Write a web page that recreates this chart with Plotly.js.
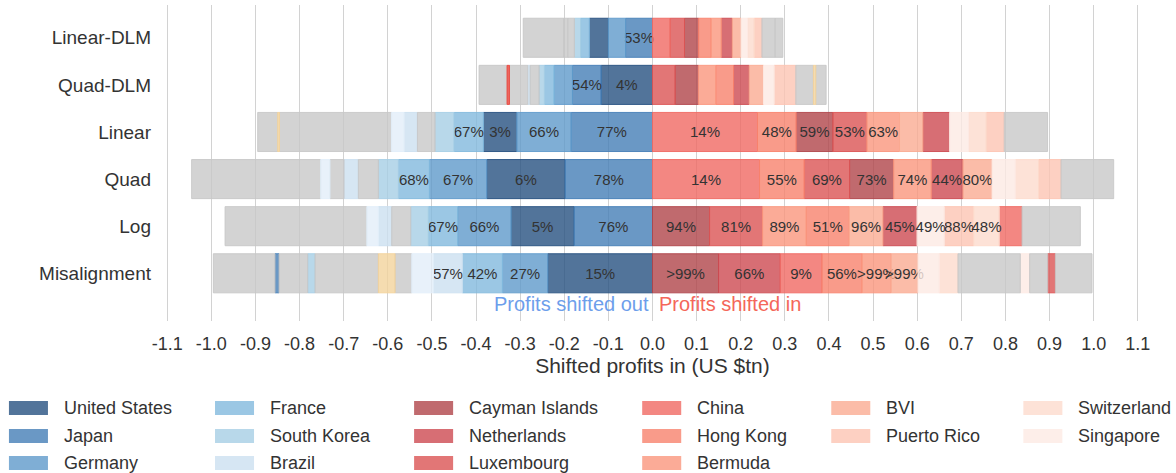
<!DOCTYPE html>
<html><head><meta charset="utf-8">
<script src="https://cdn.plot.ly/plotly-3.0.1.min.js"></script>
<style>html,body{margin:0;padding:0;background:#fff}#chart{width:1176px;height:473px}</style>
</head><body><div id="chart"></div>
<script>
// ---------- data ----------
const rows = ['Linear-DLM','Quad-DLM','Linear','Quad','Log','Misalignment'];

const legendCountries = ['United States','Japan','Germany','France','South Korea','Brazil',
  'Cayman Islands','Netherlands','Luxembourg','China','Hong Kong','Bermuda',
  'BVI','Puerto Rico','Switzerland','Singapore'];
const legendColors = ['#52749a','#6a98c5','#7faed5','#9bc7e4','#b8d8ea','#d6e6f3',
  '#c06a6e','#d76e74','#e27676','#f38782','#f99b8a','#fbab97',
  '#fbbca8','#fdd0c2','#fde2d7','#fdeee9'];
const legendColumnSizes = [3,3,3,3,2,2];

const otherKeys = ['Other','Other (pale blue)','Other (yellow)','Other (red)'];
const otherColors = ['#d3d3d3','#e8f1fa','#f5dcb0','#ef6a63'];

const tickValues = [-1.1,-1.0,-0.9,-0.8,-0.7,-0.6,-0.5,-0.4,-0.3,-0.2,-0.1,0,0.1,0.2,0.3,0.4,0.5,0.6,0.7,0.8,0.9,1.0,1.1];
const tickLabels = ['-1.1','-1.0','-0.9','-0.8','-0.7','-0.6','-0.5','-0.4','-0.3','-0.2','-0.1','0.0','0.1','0.2','0.3','0.4','0.5','0.6','0.7','0.8','0.9','1.0','1.1'];

// Profits shifted out (listed from 0 outward), US $tn
const linearDlmOutKeys = ['Japan','Germany','United States','France','South Korea','Other','Other','Other'];
const linearDlmOutVals = [0.061,0.039,0.043,0.020,0.014,0.015,0.009,0.092];
const linearDlmOutText = ['53%','','','','','','',''];
const linearDlmInKeys = ['China','Luxembourg','Cayman Islands','Hong Kong','Bermuda','Netherlands','BVI','Singapore','Switzerland','Puerto Rico','Other','Other'];
const linearDlmInVals = [0.040,0.0325,0.032,0.028,0.0234,0.025,0.0197,0.015,0.015,0.0174,0.030,0.0174];
const linearDlmInText = ['','','','','','','','','','','',''];

const quadDlmOutKeys = ['United States','Japan','Germany','France','South Korea','Other','Brazil','Other','Other (red)','Other'];
const quadDlmOutVals = [0.1164,0.065,0.0416,0.0219,0.0121,0.0204,0.0053,0.0416,0.0053,0.0635];
const quadDlmOutText = ['4%','54%','','','','','','','',''];
const quadDlmInKeys = ['Luxembourg','Cayman Islands','Bermuda','Hong Kong','Netherlands','BVI','Singapore','Puerto Rico','Other','Other (yellow)','Other'];
const quadDlmInVals = [0.0514,0.0529,0.0393,0.040,0.0355,0.0325,0.0242,0.049,0.040,0.0053,0.0234];
const quadDlmInText = ['','','','','','','','','','',''];

const linearOutKeys = ['Japan','Germany','United States','France','South Korea','Other','Brazil','Other (pale blue)','Other','Other (yellow)','Other'];
const linearOutVals = [0.1844,0.1232,0.0756,0.0665,0.0431,0.040,0.030,0.0287,0.254,0.004,0.0454];
const linearOutText = ['77%','66%','3%','67%','','','','','','',''];
const linearInKeys = ['China','Hong Kong','Cayman Islands','Luxembourg','Bermuda','BVI','Netherlands','Singapore','Switzerland','Puerto Rico','Other'];
const linearInVals = [0.238,0.0877,0.0831,0.0771,0.074,0.0529,0.0605,0.0431,0.040,0.0408,0.0983];
const linearInText = ['14%','48%','59%','53%','63%','','','','','',''];

const quadOutKeys = ['Japan','United States','Germany','France','South Korea','Other','Brazil','Other','Other (pale blue)','Other'];
const quadOutVals = [0.198,0.1776,0.130,0.0703,0.0454,0.0454,0.0325,0.0317,0.0212,0.2925];
const quadOutText = ['78%','6%','67%','68%','','','','','',''];
const quadInKeys = ['China','Hong Kong','Luxembourg','Cayman Islands','Bermuda','Netherlands','BVI','Singapore','Switzerland','Puerto Rico','Other'];
const quadInVals = [0.2426,0.1013,0.1028,0.0998,0.0854,0.0718,0.0658,0.0529,0.0529,0.0506,0.1194];
const quadInText = ['14%','55%','69%','73%','74%','44%','80%','','','',''];

const logOutKeys = ['Japan','United States','Germany','France','South Korea','Other','Brazil','Other (pale blue)','Other'];
const logOutVals = [0.1776,0.1429,0.121,0.0665,0.040,0.0431,0.030,0.0265,0.3212];
const logOutText = ['76%','5%','66%','67%','','','','',''];
const logInKeys = ['Cayman Islands','Luxembourg','Bermuda','Hong Kong','BVI','Netherlands','Singapore','Puerto Rico','Switzerland','China','Other'];
const logInVals = [0.1293,0.1202,0.099,0.0975,0.0763,0.0771,0.062,0.0665,0.0582,0.0514,0.1323];
const logInText = ['94%','81%','89%','51%','96%','45%','49%','88%','48%','',''];

const misOutKeys = ['United States','Germany','France','Brazil','Other (pale blue)','Other','Other (yellow)','Other','South Korea','Other','Japan','Other'];
const misOutVals = [0.2373,0.1028,0.0907,0.0658,0.0491,0.0378,0.0378,0.1436,0.0166,0.065,0.0091,0.1398];
const misOutText = ['15%','27%','42%','57%','','','','','','','',''];
const misInKeys = ['Cayman Islands','Netherlands','China','Hong Kong','Bermuda','BVI','Singapore','Switzerland','Other','Singapore','Other','Luxembourg','Other'];
const misInVals = [0.1497,0.1398,0.0945,0.0907,0.0658,0.0612,0.0484,0.0423,0.1413,0.0212,0.0408,0.0174,0.0831];
const misInText = ['>99%','66%','9%','56%','>99%','>99%','','','','','','',''];

// ---------- build ----------
const rowSides = [
  [linearDlmOutKeys,linearDlmOutVals,linearDlmOutText,linearDlmInKeys,linearDlmInVals,linearDlmInText],
  [quadDlmOutKeys,quadDlmOutVals,quadDlmOutText,quadDlmInKeys,quadDlmInVals,quadDlmInText],
  [linearOutKeys,linearOutVals,linearOutText,linearInKeys,linearInVals,linearInText],
  [quadOutKeys,quadOutVals,quadOutText,quadInKeys,quadInVals,quadInText],
  [logOutKeys,logOutVals,logOutText,logInKeys,logInVals,logInText],
  [misOutKeys,misOutVals,misOutText,misInKeys,misInVals,misInText]
];

const FONT = 'Liberation Sans, Arial, Helvetica, sans-serif';
const ALPHA = 0.8;
function hexToRgb(h){h=h.replace('#','');return [0,2,4].map(i=>parseInt(h.substr(i,2),16));}
function baseRgb(hex){return hexToRgb(hex).map(c=>Math.max(0,Math.min(255,Math.round((c-255*(1-ALPHA))/ALPHA))));}
function colorOf(key){
  let i = legendCountries.indexOf(key);
  if (i >= 0) return legendColors[i];
  return otherColors[otherKeys.indexOf(key)];
}

const groups = {};
const order = legendCountries.concat(otherKeys);
order.forEach(k => groups[k] = {y:[], x:[], base:[], text:[]});

rowSides.forEach((sides, r) => {
  const [ok, ov, ot, ik, iv, it] = sides;
  let cum = 0;
  ok.forEach((k, j) => {
    const g = groups[k];
    g.y.push(rows[r]); g.base.push(-cum); g.x.push(-ov[j]); g.text.push(ot[j]);
    cum += ov[j];
  });
  cum = 0;
  ik.forEach((k, j) => {
    const g = groups[k];
    g.y.push(rows[r]); g.base.push(cum); g.x.push(iv[j]); g.text.push(it[j]);
    cum += iv[j];
  });
});

const traces = [];
order.forEach(k => {
  const g = groups[k];
  if (!g.y.length) return;
  const b = baseRgb(colorOf(k));
  traces.push({
    type:'bar', orientation:'h', name:k,
    y:g.y, x:g.x, base:g.base, text:g.text, width:0.83,
    marker:{color:`rgba(${b[0]},${b[1]},${b[2]},${ALPHA})`, line:{color:`rgba(${b[0]},${b[1]},${b[2]},0.9)`, width:1}},
    textposition:'inside', insidetextanchor:'middle', textangle:0, constraintext:'none',
    insidetextfont:{family:FONT, size:15, color:'#333333'},
    hoverinfo:'skip', showlegend:false, cliponaxis:false
  });
});

// ---------- layout ----------
const W = 1176, H = 473;
const L = 160, R = 31.4, T = 5, B = 152;
const PW = W - L - R, PH = H - T - B;
const px2x = px => (px - L) / PW;
const py2y = py => (H - B - py) / PH;

const shapes = [], annotations = [];
const colSwatchX = [9, 215, 414, 642, 831, 1023];
const rowY = [408, 436, 463];
let idx = 0;
legendColumnSizes.forEach((n, c) => {
  for (let i = 0; i < n; i++, idx++) {
    const sx = colSwatchX[c], cy = rowY[i];
    shapes.push({type:'rect', xref:'paper', yref:'paper',
      x0:px2x(sx), x1:px2x(sx+39), y0:py2y(cy+7), y1:py2y(cy-7),
      fillcolor:legendColors[idx], line:{width:0}});
    annotations.push({xref:'paper', yref:'paper', x:px2x(sx+53), y:py2y(cy),
      xanchor:'left', yanchor:'middle', showarrow:false, text:legendCountries[idx],
      font:{family:FONT, size:18, color:'#333333'}});
  }
});

annotations.push({xref:'x', yref:'paper', x:0, y:py2y(304), xanchor:'right', yanchor:'middle',
  xshift:-2, showarrow:false, text:'Profits shifted out', font:{family:FONT, size:20, color:'#6d9eeb'}});
annotations.push({xref:'x', yref:'paper', x:0, y:py2y(304), xanchor:'left', yanchor:'middle',
  xshift:4, showarrow:false, text:'Profits shifted in', font:{family:FONT, size:20, color:'#f4675a'}});

const layout = {
  width:W, height:H,
  margin:{l:L, r:R, t:T, b:B, pad:0},
  paper_bgcolor:'#ffffff', plot_bgcolor:'#ffffff',
  barmode:'overlay',
  font:{family:FONT, color:'#333333'},
  xaxis:{
    range:[-1.1163, 1.1163], autorange:false,
    tickmode:'array', tickvals:tickValues, ticktext:tickLabels,
    showgrid:true, gridcolor:'#d2d2d2', gridwidth:1,
    zeroline:false, showline:false, ticks:'', automargin:false,
    ticklabelstandoff:10,
    tickfont:{family:FONT, size:18, color:'#333333'},
    title:{text:'Shifted profits in (US $tn)', font:{family:FONT, size:21, color:'#333333'}, standoff:5}
  },
  yaxis:{
    type:'category', categoryorder:'array', categoryarray:rows,
    range:[6.013, -0.696], autorange:false,
    showgrid:false, zeroline:false, showline:false, ticks:'', automargin:false,
    ticklabelstandoff:8,
    tickfont:{family:FONT, size:19, color:'#333333'}
  },
  shapes:shapes, annotations:annotations,
  showlegend:false
};

Plotly.newPlot('chart', traces, layout, {displayModeBar:false, staticPlot:true});
</script>
</body></html>
